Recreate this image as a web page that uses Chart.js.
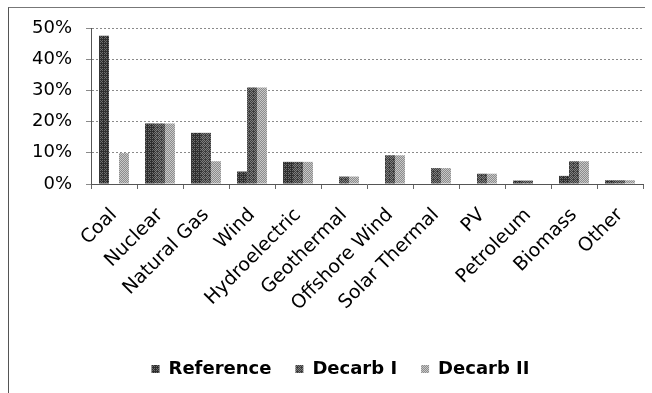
<!DOCTYPE html>
<html>
<head>
<meta charset="utf-8">
<script src="https://cdn.jsdelivr.net/npm/chart.js@4/dist/chart.umd.min.js"></script>
<style>
  html, body { margin: 0; padding: 0; background: #fff; }
  #wrap { position: relative; width: 652px; height: 393px; }
  #frame { position: absolute; left: 8px; top: 7px; width: 636px; height: 400px;
           border-left: 1px solid #555; border-top: 1px solid #777; }
  canvas { position: absolute; left: 0; top: 0; }
</style>
</head>
<body>
<div id="wrap">
  <div id="frame"></div>
  <canvas id="c" width="652" height="393"></canvas>
</div>
<script>
// Electricity generation share by source, per scenario (percent)
const categories = ['Coal', 'Nuclear', 'Natural Gas', 'Wind', 'Hydroelectric', 'Geothermal',
                    'Offshore Wind', 'Solar Thermal', 'PV', 'Petroleum', 'Biomass', 'Other'];
const seriesNames = ['Reference', 'Decarb I', 'Decarb II'];
const referenceShare = [47.5, 19.4, 16.4, 4.0, 7.1, 0, 0, 0, 0, 1.1, 2.6, 1.2];
const decarbIShare   = [0, 19.4, 16.4, 30.9, 7.1, 2.4, 9.2, 5.1, 3.3, 1.1, 7.3, 1.2];
const decarbIIShare  = [9.9, 19.4, 7.3, 30.9, 7.1, 2.4, 9.2, 5.1, 3.3, 0, 7.3, 1.2];
const yTicks = [0, 10, 20, 30, 40, 50];

const FONT = 'DejaVu Sans';

// Two-tone ordered-dither fill, printed-halftone style
const BAYER = [0, 8, 2, 10, 12, 4, 14, 6, 3, 11, 1, 9, 15, 7, 13, 5];
function ditherFill(dark, light, level) {
  const cv = document.createElement('canvas');
  cv.width = 4; cv.height = 4;
  const g = cv.getContext('2d');
  for (let i = 0; i < 16; i++) {
    g.fillStyle = BAYER[i] < level ? light : dark;
    g.fillRect(i % 4, Math.floor(i / 4), 1, 1);
  }
  return g.createPattern(cv, 'repeat');
}
const ctx = document.getElementById('c').getContext('2d');
const fills = [
  ditherFill('#2e2e2e', '#6e6e6e', 5),
  ditherFill('#3c3c3c', '#7e7e7e', 7),
  ditherFill('#8c8c8c', '#c8c8c8', 8)
];

// nudges the legend row to the right of centre
const legendShift = {
  id: 'legendShift',
  afterLayout(chart) {
    const lg = chart.legend;
    if (lg) { lg.left += 14; lg.right += 14; }
  }
};

new Chart(ctx, {
  type: 'bar',
  data: {
    labels: categories,
    datasets: [
      { label: seriesNames[0], data: referenceShare, backgroundColor: fills[0] },
      { label: seriesNames[1], data: decarbIShare,   backgroundColor: fills[1] },
      { label: seriesNames[2], data: decarbIIShare,  backgroundColor: fills[2] }
    ]
  },
  options: {
    responsive: false,
    animation: false,
    layout: { padding: { top: 28, left: 10, right: 9, bottom: 5 } },
    datasets: { bar: { categoryPercentage: 0.65, barPercentage: 1.0 } },
    plugins: {
      tooltip: { enabled: false },
      legend: {
        position: 'bottom',
        labels: {
          boxWidth: 8, boxHeight: 8, padding: 24, color: '#000',
          font: { family: FONT, size: 18, weight: 'bold' }
        }
      }
    },
    scales: {
      x: {
        offset: true,
        grid: { offset: true, drawOnChartArea: false, drawTicks: true, tickLength: 5, color: '#666' },
        border: { color: '#555' },
        ticks: { minRotation: 45, maxRotation: 45, padding: 15, color: '#000',
                 font: { family: FONT, size: 19 } },
        afterFit(s) { s.height = 152; }
      },
      y: {
        min: 0, max: 50,
        afterBuildTicks(s) { s.ticks = yTicks.map(v => ({ value: v })); },
        grid: { color: '#8a8a8a', lineWidth: 1, tickLength: 5 },
        border: { color: '#555', dash: [2, 2] },
        ticks: { padding: 14, color: '#000', font: { family: FONT, size: 18 },
                 callback: v => v + '%' },
        afterFit(s) { s.width = 81; }
      }
    }
  },
  plugins: [legendShift]
});
</script>
</body>
</html>
